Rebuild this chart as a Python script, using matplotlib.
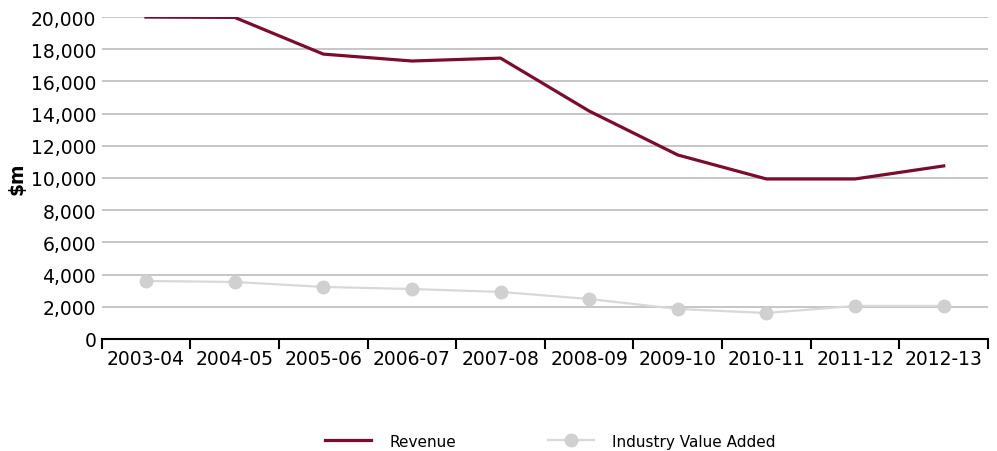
import matplotlib
matplotlib.use("Agg")
import matplotlib.pyplot as plt
from matplotlib.ticker import FuncFormatter, MultipleLocator, FixedLocator

years = ["2003-04", "2004-05", "2005-06", "2006-07", "2007-08",
         "2008-09", "2009-10", "2010-11", "2011-12", "2012-13"]
revenue = [20000, 19980, 17700, 17270, 17450, 14160, 11430, 9940, 9940, 10750]
value_added = [3600, 3540, 3230, 3100, 2920, 2480, 1860, 1610, 2050, 2050]

plt.rcParams['font.family'] = ['Verdana', 'DejaVu Sans']

fig = plt.figure(figsize=(9.97, 4.52), dpi=100)
ax = fig.add_axes([0.102, 0.248, 0.889, 0.712])
x = range(len(years))

ax.plot(x, revenue, color="#7a0d2e", lw=2.3, label="Revenue", zorder=3)
ax.plot(x, value_added, color="#d8d8d8", lw=1.6, marker="o", ms=9,
        mec="#d0d0d0", mfc="#d0d0d0", label="Industry Value Added", zorder=3)

ax.set_xlim(-0.5, len(years) - 0.5)
ax.set_ylim(0, 20000)
ax.yaxis.set_major_locator(MultipleLocator(2000))
ax.yaxis.set_major_formatter(FuncFormatter(lambda v, p: f"{int(v):,}"))
ax.grid(axis="y", color="#bcbcbc", lw=1.2)
ax.set_axisbelow(True)

ax.set_xticks(list(x))
ax.set_xticklabels(years)
ax.xaxis.set_minor_locator(FixedLocator([i - 0.5 for i in range(len(years) + 1)]))
ax.tick_params(axis="x", which="major", length=0, labelsize=13.5, pad=7)
ax.tick_params(axis="x", which="minor", length=7, width=1.5, color="black", direction="out")
ax.tick_params(axis="y", length=0, labelsize=13.5, pad=4)

for s in ["top", "right", "left"]:
    ax.spines[s].set_visible(False)
ax.spines["bottom"].set_linewidth(1.5)

ax.set_ylabel("$m", fontsize=13.5, fontweight="bold", labelpad=3)

fig.legend(loc="lower center", bbox_to_anchor=(0.552, -0.025), ncol=2, frameon=False,
           fontsize=11, columnspacing=6, handlelength=3, handletextpad=1.2)

fig.savefig("out.png", dpi=100)
